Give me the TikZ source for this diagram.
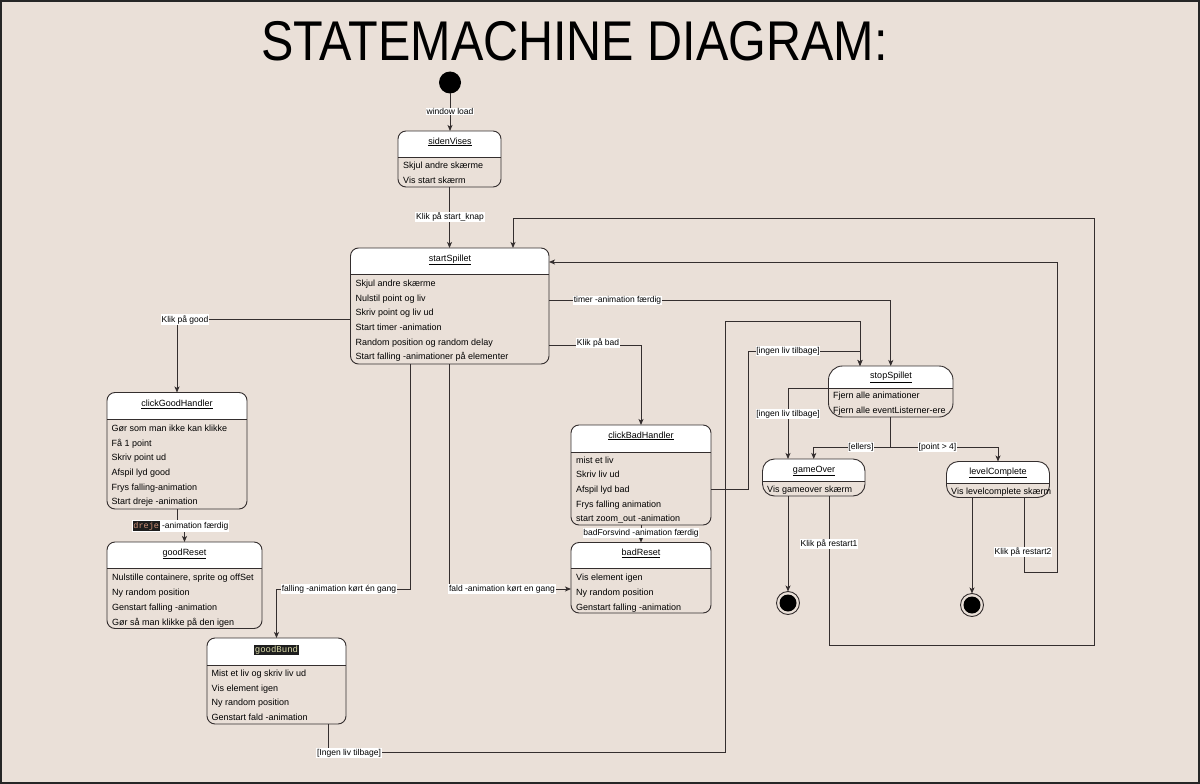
\documentclass[tikz,border=0pt]{standalone}
\usepackage{fontspec}
\setmainfont{Liberation Sans}
\setmonofont{Liberation Mono}
\usepackage{graphicx}
\usetikzlibrary{arrows.meta}

\definecolor{bg}{RGB}{234,224,216}
\definecolor{ln}{RGB}{52,46,46}
\definecolor{codebg}{RGB}{30,30,30}
\definecolor{codestr}{RGB}{206,145,120}
\definecolor{codefn}{RGB}{220,220,170}

\tikzset{
  frame/.style={draw=black!85, line width=2pt},
  state/.style={draw=ln, line width=0.9pt, rounded corners=8pt, inner sep=0pt, outer sep=0pt},
  head/.style={path picture={
      \fill[white, sharp corners] (path picture bounding box.north west) rectangle ([yshift=-#1]path picture bounding box.north east);
      \draw[ln, line width=0.9pt, sharp corners] ([yshift=-#1]path picture bounding box.north west) -- ([yshift=-#1]path picture bounding box.north east);}},
  initial/.style={circle, fill=black, minimum size=22pt, inner sep=0pt, outer sep=0pt},
  final/.style={circle, draw=ln, line width=0.9pt, minimum size=23pt, inner sep=0pt, outer sep=0pt,
      path picture={\fill[black] (path picture bounding box.center) circle (8.5pt);}},
  sname/.style={anchor=base, inner sep=0pt, font=\fontsize{9}{10}\selectfont},
  item/.style={anchor=base west, inner sep=0pt, font=\fontsize{9}{10}\selectfont},
  lbl/.style={fill=white, inner sep=0.8pt, font=\fontsize{8.5}{9}\selectfont},
  tr/.style={draw=ln, line width=0.9pt, -{Stealth[length=6pt,width=5pt,inset=1.5pt]}},
  ln/.style={draw=ln, line width=0.9pt},
}

\begin{document}
\begin{tikzpicture}[x=1pt,y=-1pt]
\useasboundingbox (0,0) rectangle (1200,784);
\fill[bg] (0,0) rectangle (1200,784);
\draw[frame] (1,1) rectangle (1199,783);

\node[anchor=base, inner sep=0pt, font=\fontsize{56}{60}\selectfont] (title) at (574.5,60)
  {\scalebox{0.866}[1]{STATEMACHINE DIAGRAM:}};

% states
\node[initial] (init) at (450,82.5) {};
\node[state, head=26.5pt, minimum width=103pt, minimum height=56pt] (sidenVises) at (449.5,159) {};
\node[state, head=26.5pt, minimum width=198.5pt, minimum height=116pt] (startSpillet) at (449.75,306) {};
\node[state, head=26.5pt, minimum width=140pt, minimum height=116.5pt] (clickGoodHandler) at (177,450.75) {};
\node[state, head=26.5pt, minimum width=155pt, minimum height=86.5pt] (goodReset) at (184.5,585.25) {};
\node[state, head=27pt, minimum width=139pt, minimum height=86pt] (goodBund) at (276.5,681) {};
\node[state, head=27.5pt, minimum width=140pt, minimum height=100pt] (clickBadHandler) at (641,475) {};
\node[state, head=26pt, minimum width=140pt, minimum height=70.5pt] (badReset) at (641,577.75) {};
\node[state, head=22pt, rounded corners=14pt, minimum width=124.5pt, minimum height=51pt] (stopSpillet) at (890.75,391.5) {};
\node[state, head=22.5pt, rounded corners=12pt, minimum width=102.5pt, minimum height=37pt] (gameOver) at (813.75,477.5) {};
\node[state, head=21.5pt, rounded corners=12pt, minimum width=103pt, minimum height=36pt] (levelComplete) at (998,479.5) {};
\node[final] (end1) at (788,603) {};
\node[final] (end2) at (972,605) {};

% state names
\node[sname] (sVname) at (450,144) {\underline{sidenVises}};
\node[sname] (sSname) at (450,261.3) {\underline{startSpillet}};
\node[sname] (cGname) at (177,406.3) {\underline{clickGoodHandler}};
\node[sname] (gRname) at (184.5,555.3) {\underline{goodReset}};
\node[sname] (gBname) at (276.5,652.3) {\setlength\fboxsep{1pt}\colorbox{codebg}{\color{codefn}\ttfamily goodBund}};
\node[sname] (cBname) at (641,438) {\underline{clickBadHandler}};
\node[sname] (bRname) at (641,555.3) {\underline{badReset}};
\node[sname] (sPname) at (891,378.7) {\underline{stopSpillet}};
\node[sname] (gOname) at (814,472.3) {\underline{gameOver}};
\node[sname] (lCname) at (998,474) {\underline{levelComplete}};

% items
\node[item] (sV1) at (403,168) {Skjul andre skærme};
\node[item] (sV2) at (403,183) {Vis start skærm};

\node[item] (sS1) at (355.5,286) {Skjul andre skærme};
\node[item] (sS2) at (355.5,301) {Nulstil point og liv};
\node[item] (sS3) at (355.5,315.5) {Skriv point og liv ud};
\node[item] (sS4) at (355.5,330) {Start timer -animation};
\node[item] (sS5) at (355.5,345) {Random position og random delay};
\node[item] (sS6) at (355.5,359.5) {Start falling -animationer på elementer};

\node[item] (cG1) at (111.5,431.5) {Gør som man ikke kan klikke};
\node[item] (cG2) at (111.5,446) {Få 1 point};
\node[item] (cG3) at (111.5,460.5) {Skriv point ud};
\node[item] (cG4) at (111.5,475) {Afspil lyd good};
\node[item] (cG5) at (111.5,490) {Frys falling-animation};
\node[item] (cG6) at (111.5,504.5) {Start dreje -animation};

\node[item] (gR1) at (112,580.5) {Nulstille containere, sprite og offSet};
\node[item] (gR2) at (112,595) {Ny random position};
\node[item] (gR3) at (112,610) {Genstart falling -animation};
\node[item] (gR4) at (112,625) {Gør så man klikke på den igen};

\node[item] (gB1) at (211.5,676) {Mist et liv og skriv liv ud};
\node[item] (gB2) at (211.5,691) {Vis element igen};
\node[item] (gB3) at (211.5,705.5) {Ny random position};
\node[item] (gB4) at (211.5,720) {Genstart fald -animation};

\node[item] (cB1) at (576,463) {mist et liv};
\node[item] (cB2) at (576,477.5) {Skriv liv ud};
\node[item] (cB3) at (576,492) {Afspil lyd bad};
\node[item] (cB4) at (576,507) {Frys falling animation};
\node[item] (cB5) at (576,521.5) {start zoom\_out -animation};

\node[item] (bR1) at (576,580.7) {Vis element igen};
\node[item] (bR2) at (576,595) {Ny random position};
\node[item] (bR3) at (576,610) {Genstart falling -animation};

\node[item] (sP1) at (833,398) {Fjern alle animationer};
\node[item] (sP2) at (833,413) {Fjern alle eventListerner-ere};

\node[item] (gO1) at (767,492) {Vis gameover skærm};
\node[item] (lC1) at (951,494.7) {Vis levelcomplete skærm};

% bends
\coordinate (fallL) at (410,589);
\coordinate (badUp) at (748,351);
\coordinate (stopIn) at (860,366);
\coordinate (bundLow) at (725,752);
\coordinate (bundHigh) at (725,321.5);
\coordinate (split) at (890.75,447);
\coordinate (r1a) at (1094,645);
\coordinate (r1b) at (1094,218.5);
\coordinate (r2a) at (1057,572);
\coordinate (r2b) at (1057,262);

% transitions
\draw[tr] (init.south) -- (init.south |- sidenVises.north);
\draw[tr] (sidenVises.south) -- (sidenVises.south |- startSpillet.north);
\draw[tr] ([yshift=-13.5pt]startSpillet.west) -| (clickGoodHandler.north);
\draw[tr] ([yshift=5.5pt]startSpillet.east) -| (stopSpillet.north);
\draw[tr] ([yshift=-39pt]startSpillet.east) -| (clickBadHandler.north);
\draw[tr] (clickGoodHandler.south) -- ++(0,17) -| (goodReset.north);
\draw[tr] (startSpillet.south -| fallL) -- (fallL) -| (goodBund.north);
\draw[tr] (startSpillet.south) |- ([yshift=-11.25pt]badReset.west);
\draw[tr] (clickBadHandler.south) -- (badReset.north);
\draw[tr] ([yshift=-14pt]clickBadHandler.east) -| (badUp) -| (stopIn);
\draw[tr] ([xshift=51.5pt]goodBund.south) |- (bundLow) -- (bundHigh) -| (stopIn);
\draw[tr] ([yshift=3.5pt]stopSpillet.west) -| ([xshift=-25.75pt]gameOver.north);
\draw[ln] (stopSpillet.south) -- (split);
\draw[tr] (split) -| (gameOver.north);
\draw[tr] (split) -| (levelComplete.north);
\draw[tr] ([xshift=-25.75pt]gameOver.south) -- (end1.north);
\draw[tr] ([xshift=15.25pt]gameOver.south) |- (r1a) -- (r1b) -| ([xshift=63.25pt]startSpillet.north);
\draw[tr] ([xshift=-26pt]levelComplete.south) -- (end2.north);
\draw[tr] ([xshift=26pt]levelComplete.south) |- (r2a) -- (r2b) -- ([yshift=-14pt]startSpillet.north east);

% labels
\node[lbl] (l1) at (450,111.5) {window load};
\node[lbl] (l2) at (450,217) {Klik på start\_knap};
\node[lbl] (l3) at (185,319.5) {Klik på good};
\node[lbl] (l4) at (617.5,300.5) {timer -animation færdig};
\node[lbl] (l5) at (598,343) {Klik på bad};
\node[lbl] (l6) at (180.5,526) {{\setlength\fboxsep{0.8pt}\colorbox{codebg}{\color{codestr}\ttfamily dreje}} -animation færdig};
\node[lbl] (l7) at (339,589) {falling -animation kørt én gang};
\node[lbl] (l8) at (502,589) {fald -animation kørt en gang};
\node[lbl] (l9) at (641,533) {badForsvind -animation færdig};
\node[lbl] (l10) at (788,351) {[ingen liv tilbage]};
\node[lbl] (l11) at (788,414) {[ingen liv tilbage]};
\node[lbl] (l12) at (349,753) {[Ingen liv tilbage]};
\node[lbl] (l13) at (861,447) {[ellers]};
\node[lbl] (l14) at (937.5,447) {[point > 4]};
\node[lbl] (l15) at (829,544) {Klik på restart1};
\node[lbl] (l16) at (1023,552) {Klik på restart2};
\end{tikzpicture}
\end{document}
